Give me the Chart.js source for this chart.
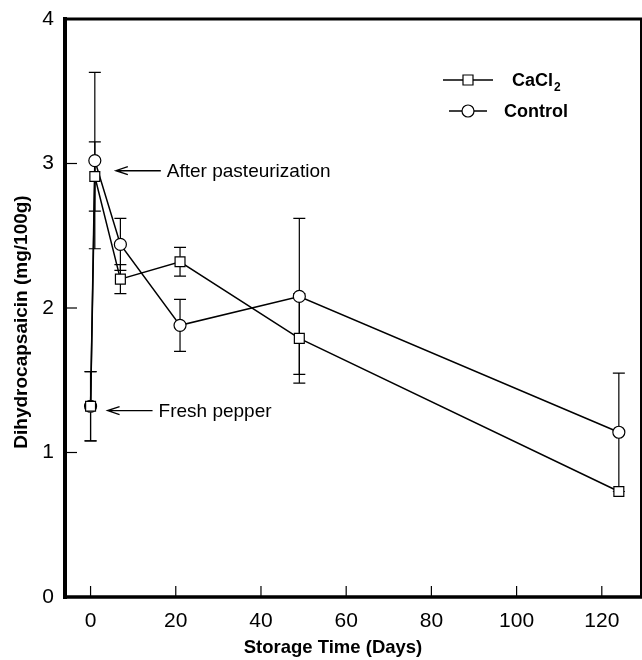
<!DOCTYPE html>
<html><head><meta charset="utf-8">
<script src="https://cdn.jsdelivr.net/npm/chart.js@4.4.1/dist/chart.umd.min.js"></script>
<style>html,body{margin:0;padding:0;background:#fff;overflow:hidden}#wrap{width:642px;height:660px}canvas{display:block}</style>
</head><body><div id="wrap"><canvas id="c" width="642" height="660"></canvas></div>
<script>
const days = [0, 1, 7, 21, 49, 124];
const cacl2 = [1.32, 2.91, 2.20, 2.32, 1.79, 0.73];
const cacl2Err = [0.24, 0.24, 0.10, 0.10, 0.31, 0];
const control = [1.32, 3.02, 2.44, 1.88, 2.08, 1.14];
const controlErr = [0.24, 0.61, 0.18, 0.18, 0.54, 0.41];
const xTicks = [0, 20, 40, 60, 80, 100, 120];
const yTicks = [0, 1, 2, 3, 4];
const seriesNames = ['CaCl', 'Control'];
const xTitle = 'Storage Time (Days)';
const yTitle = 'Dihydrocapsaicin (mg/100g)';
const annotations = [
  {text: 'After pasteurization', day: 1, value: 2.95},
  {text: 'Fresh pepper', day: 0, value: 1.29}
];

const FONT = '"Liberation Sans", Arial, Helvetica, sans-serif';
const errs = [cacl2Err, controlErr];

const decor = {
  id: 'decor',
  beforeDatasetsDraw(chart) {
    const ctx = chart.ctx, xs = chart.scales.x, ys = chart.scales.y;
    ctx.save();
    ctx.strokeStyle = '#000';
    ctx.lineWidth = 1.2;
    chart.data.datasets.forEach((ds, di) => {
      ds.data.forEach((p, i) => {
        const e = errs[di][i];
        if (!e) return;
        const x = xs.getPixelForValue(p.x);
        const y1 = ys.getPixelForValue(p.y - e), y2 = ys.getPixelForValue(p.y + e);
        ctx.beginPath();
        ctx.moveTo(x, y1); ctx.lineTo(x, y2);
        ctx.moveTo(x - 6, y1); ctx.lineTo(x + 6, y1);
        ctx.moveTo(x - 6, y2); ctx.lineTo(x + 6, y2);
        ctx.stroke();
      });
    });
    ctx.restore();
  },
  afterDraw(chart) {
    const ctx = chart.ctx, xs = chart.scales.x, ys = chart.scales.y;
    const {left, right, top, bottom} = chart.chartArea;
    ctx.save();
    ctx.strokeStyle = '#000';
    ctx.fillStyle = '#000';
    // inner ticks
    ctx.lineWidth = 1.2;
    xTicks.forEach(v => {
      const x = xs.getPixelForValue(v);
      ctx.beginPath(); ctx.moveTo(x, bottom); ctx.lineTo(x, bottom - 11); ctx.stroke();
    });
    yTicks.forEach(v => {
      const y = ys.getPixelForValue(v);
      ctx.beginPath(); ctx.moveTo(left, y); ctx.lineTo(left + 12, y); ctx.stroke();
    });
    // frame
    ctx.lineCap = 'square';
    ctx.lineWidth = 3; ctx.beginPath(); ctx.moveTo(left, top); ctx.lineTo(right, top); ctx.stroke();
    ctx.lineWidth = 2; ctx.beginPath(); ctx.moveTo(right, top); ctx.lineTo(right, bottom); ctx.stroke();
    ctx.lineWidth = 3.5; ctx.beginPath(); ctx.moveTo(left, bottom); ctx.lineTo(right, bottom); ctx.stroke();
    ctx.lineWidth = 4; ctx.beginPath(); ctx.moveTo(left, top); ctx.lineTo(left, bottom); ctx.stroke();
    ctx.lineCap = 'butt';
    // axis titles
    ctx.textAlign = 'center'; ctx.textBaseline = 'middle';
    ctx.font = 'bold 18.5px ' + FONT;
    ctx.fillText(xTitle, 333, 648);
    ctx.save();
    ctx.font = 'bold 19px ' + FONT;
    ctx.translate(22, 322); ctx.rotate(-Math.PI / 2);
    ctx.fillText(yTitle, 0, 0);
    ctx.restore();
    // annotations with arrows
    ctx.font = '19px ' + FONT;
    ctx.textAlign = 'left';
    ctx.lineWidth = 1.3;
    annotations.forEach((a, i) => {
      const px = xs.getPixelForValue(a.day) + (i === 0 ? 21 : 17);
      const py = ys.getPixelForValue(a.value);
      const tail = px + 45;
      ctx.beginPath();
      ctx.moveTo(px, py); ctx.lineTo(tail, py);
      ctx.moveTo(px + 12, py - 4); ctx.lineTo(px, py); ctx.lineTo(px + 12, py + 4);
      ctx.stroke();
      ctx.fillText(a.text, tail + 6, py + 1);
    });
    // legend
    const leg = [
      {y: 80, x1: 443, x2: 493, tx: 512, style: 'rect'},
      {y: 111, x1: 449, x2: 487, tx: 504, style: 'circle'}
    ];
    leg.forEach((l, i) => {
      ctx.lineWidth = 1.5;
      ctx.beginPath(); ctx.moveTo(l.x1, l.y); ctx.lineTo(l.x2, l.y); ctx.stroke();
      ctx.lineWidth = 1.2;
      ctx.fillStyle = '#fff';
      ctx.beginPath();
      if (l.style === 'rect') ctx.rect(468 - 5, l.y - 5, 10, 10);
      else ctx.arc(468, l.y, 6, 0, Math.PI * 2);
      ctx.fill(); ctx.stroke();
      ctx.fillStyle = '#000';
      ctx.font = 'bold 18px ' + FONT;
      ctx.textBaseline = 'middle';
      ctx.fillText(seriesNames[i], l.tx, l.y + 1);
      if (i === 0) {
        const w = ctx.measureText(seriesNames[i]).width;
        ctx.font = 'bold 12px ' + FONT;
        ctx.fillText('2', l.tx + w + 1, l.y + 8);
      }
    });
    ctx.restore();
  }
};

const mk = (vals) => days.map((d, i) => ({x: d, y: vals[i]}));

new Chart(document.getElementById('c'), {
  type: 'scatter',
  data: {
    datasets: [
      {label: 'CaCl2', data: mk(cacl2), showLine: true, borderColor: '#000', borderWidth: 1.5,
       pointStyle: 'rect', pointRadius: 7, pointBackgroundColor: '#fff', pointBorderColor: '#000', pointBorderWidth: 1.2},
      {label: 'Control', data: mk(control), showLine: true, borderColor: '#000', borderWidth: 1.5,
       pointStyle: 'circle', pointRadius: 6, pointBackgroundColor: '#fff', pointBorderColor: '#000', pointBorderWidth: 1.2}
    ]
  },
  options: {
    responsive: false, animation: false, devicePixelRatio: 1,
    layout: {autoPadding: false, padding: {top: 19, right: 1, left: 0, bottom: 0}},
    plugins: {legend: {display: false}, tooltip: {enabled: false}},
    scales: {
      x: {
        type: 'linear', min: -6, max: 129.2,
        afterBuildTicks: s => { s.ticks = xTicks.map(v => ({value: v})); },
        afterFit: s => { s.height = 63; s.paddingLeft = 0; s.paddingRight = 0; },
        grid: {display: false, drawTicks: false}, border: {display: false},
        ticks: {color: '#000', font: {family: FONT, size: 21}, padding: 12, maxRotation: 0}
      },
      y: {
        min: 0, max: 4,
        afterBuildTicks: s => { s.ticks = yTicks.map(v => ({value: v})); },
        afterFit: s => { s.width = 65; s.paddingTop = 0; s.paddingBottom = 0; },
        grid: {display: false, drawTicks: false}, border: {display: false},
        ticks: {color: '#000', font: {family: FONT, size: 21}, padding: 11}
      }
    }
  },
  plugins: [decor]
});
</script>
</body></html>
